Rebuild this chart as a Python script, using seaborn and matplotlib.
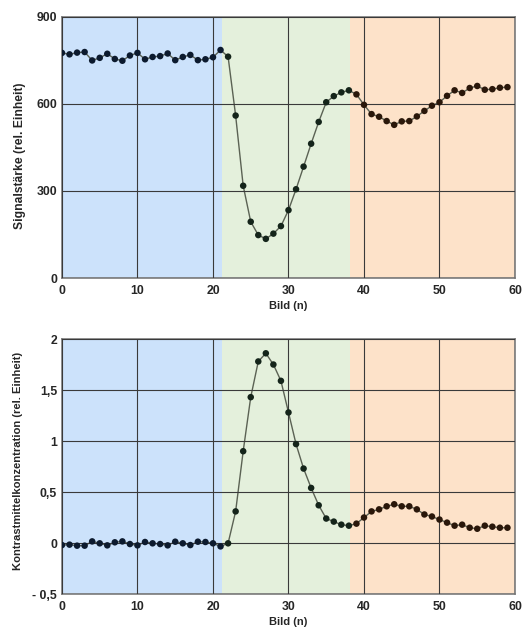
import numpy as np
import pandas as pd
import matplotlib
matplotlib.use("Agg")
import matplotlib.pyplot as plt
import seaborn as sns

# Frame index (Bild n)
frames = list(range(60))

# Signal intensity per frame (relative units)
signal = [776, 771, 777, 779, 750, 759, 773, 755, 749, 767,
          776, 754, 762, 765, 774, 751, 762, 769, 751, 754,
          761, 786, 763, 560, 318, 194, 148, 135, 153, 179,
          234, 306, 384, 463, 538, 606, 627, 640, 647, 633,
          597, 565, 556, 541, 528, 540, 541, 557, 576, 594,
          606, 628, 647, 638, 655, 662, 649, 651, 656, 658]

# Contrast agent concentration per frame (relative units)
concentration = [-0.02, -0.016, -0.026, -0.026, 0.016, -0.003, -0.023, 0.007, 0.016, -0.01,
                 -0.023, 0.01, -0.003, -0.01, -0.023, 0.013, -0.003, -0.02, 0.013, 0.01,
                 -0.003, -0.033, -0.003, 0.31, 0.90, 1.43, 1.78, 1.86, 1.75, 1.59,
                 1.28, 0.97, 0.73, 0.54, 0.37, 0.24, 0.21, 0.18, 0.17, 0.19,
                 0.25, 0.31, 0.33, 0.36, 0.38, 0.36, 0.36, 0.33, 0.28, 0.26,
                 0.23, 0.20, 0.17, 0.18, 0.15, 0.14, 0.17, 0.16, 0.15, 0.15]

# Phase of each frame: baseline, first pass, recirculation
phase_bounds = [0, 21.2, 38.15, 60]
phase_names = ["Baseline", "First pass", "Rezirkulation"]
phase_fill = ["#cce2fb", "#e4f0dc", "#fde2c9"]
phase_marker = ["#0c1a2e", "#14241a", "#2a170a"]

x_ticks = [0, 10, 20, 30, 40, 50, 60]
top_ticks = [0, 300, 600, 900]
top_ticklabels = ["0", "300", "600", "900"]
bottom_ticks = [-0.5, 0, 0.5, 1, 1.5, 2]
bottom_ticklabels = ["- 0,5", "0", "0,5", "1", "1,5", "2"]


def phase_of(n):
    for i in range(len(phase_names)):
        if phase_bounds[i] <= n < phase_bounds[i + 1]:
            return phase_names[i]
    return phase_names[-1]


df = pd.DataFrame({
    "Bild": frames,
    "Signal": signal,
    "Konz": concentration,
    "Phase": [phase_of(n) for n in frames],
})

sns.set_style("white")
plt.rcParams["font.family"] = ["Liberation Sans", "DejaVu Sans"]
plt.rcParams["font.weight"] = "bold"

fig = plt.figure(figsize=(5.23, 6.27), dpi=100)
ax_top = fig.add_axes([0.1185, 0.5566, 0.8662, 0.4164])
ax_bot = fig.add_axes([0.1185, 0.0526, 0.8662, 0.4067])

palette = dict(zip(phase_names, phase_marker))


def draw(ax, ycol, ylim, yticks, yticklabels, ylabel, label_size, label_x, label_y):
    for i in range(len(phase_names)):
        ax.axvspan(phase_bounds[i], phase_bounds[i + 1], color=phase_fill[i], lw=0, zorder=0)
    sns.lineplot(data=df, x="Bild", y=ycol, ax=ax, color="#5b6254", lw=1.0, zorder=2)
    sns.scatterplot(data=df, x="Bild", y=ycol, hue="Phase", palette=palette, ax=ax,
                    s=22, edgecolor="none", legend=False, zorder=3)
    ax.set_xlim(0, 60)
    ax.set_ylim(*ylim)
    ax.set_xticks(x_ticks)
    ax.set_xticklabels([str(t) for t in x_ticks])
    ax.set_yticks(yticks)
    ax.set_yticklabels(yticklabels)
    ax.grid(True, color="#3a3a3a", lw=0.8, zorder=1)
    ax.set_axisbelow(False)
    ax.tick_params(axis="y", length=0, labelsize=8.8, pad=3.5)
    ax.tick_params(axis="x", length=0, labelsize=8.8, pad=5)
    for lab in ax.get_xticklabels() + ax.get_yticklabels():
        lab.set_fontweight("bold")
    for sp in ax.spines.values():
        sp.set_color("#7a7a7a")
        sp.set_linewidth(1.2)
    ax.set_xlabel("Bild (n)", fontsize=8, fontweight="bold", labelpad=3)
    ax.set_ylabel(ylabel, fontsize=label_size, fontweight="bold")
    ax.yaxis.set_label_coords(label_x, label_y)


draw(ax_top, "Signal", (0, 900), top_ticks, top_ticklabels,
     "Signalstärke (rel. Einheit)", 8.7, -0.0795, 0.469)
draw(ax_bot, "Konz", (-0.5, 2), bottom_ticks, bottom_ticklabels,
     "Kontrastmittelkonzentration (rel. Einheit)", 8.1, -0.086, 0.52)

fig.savefig("out.png", dpi=100)
